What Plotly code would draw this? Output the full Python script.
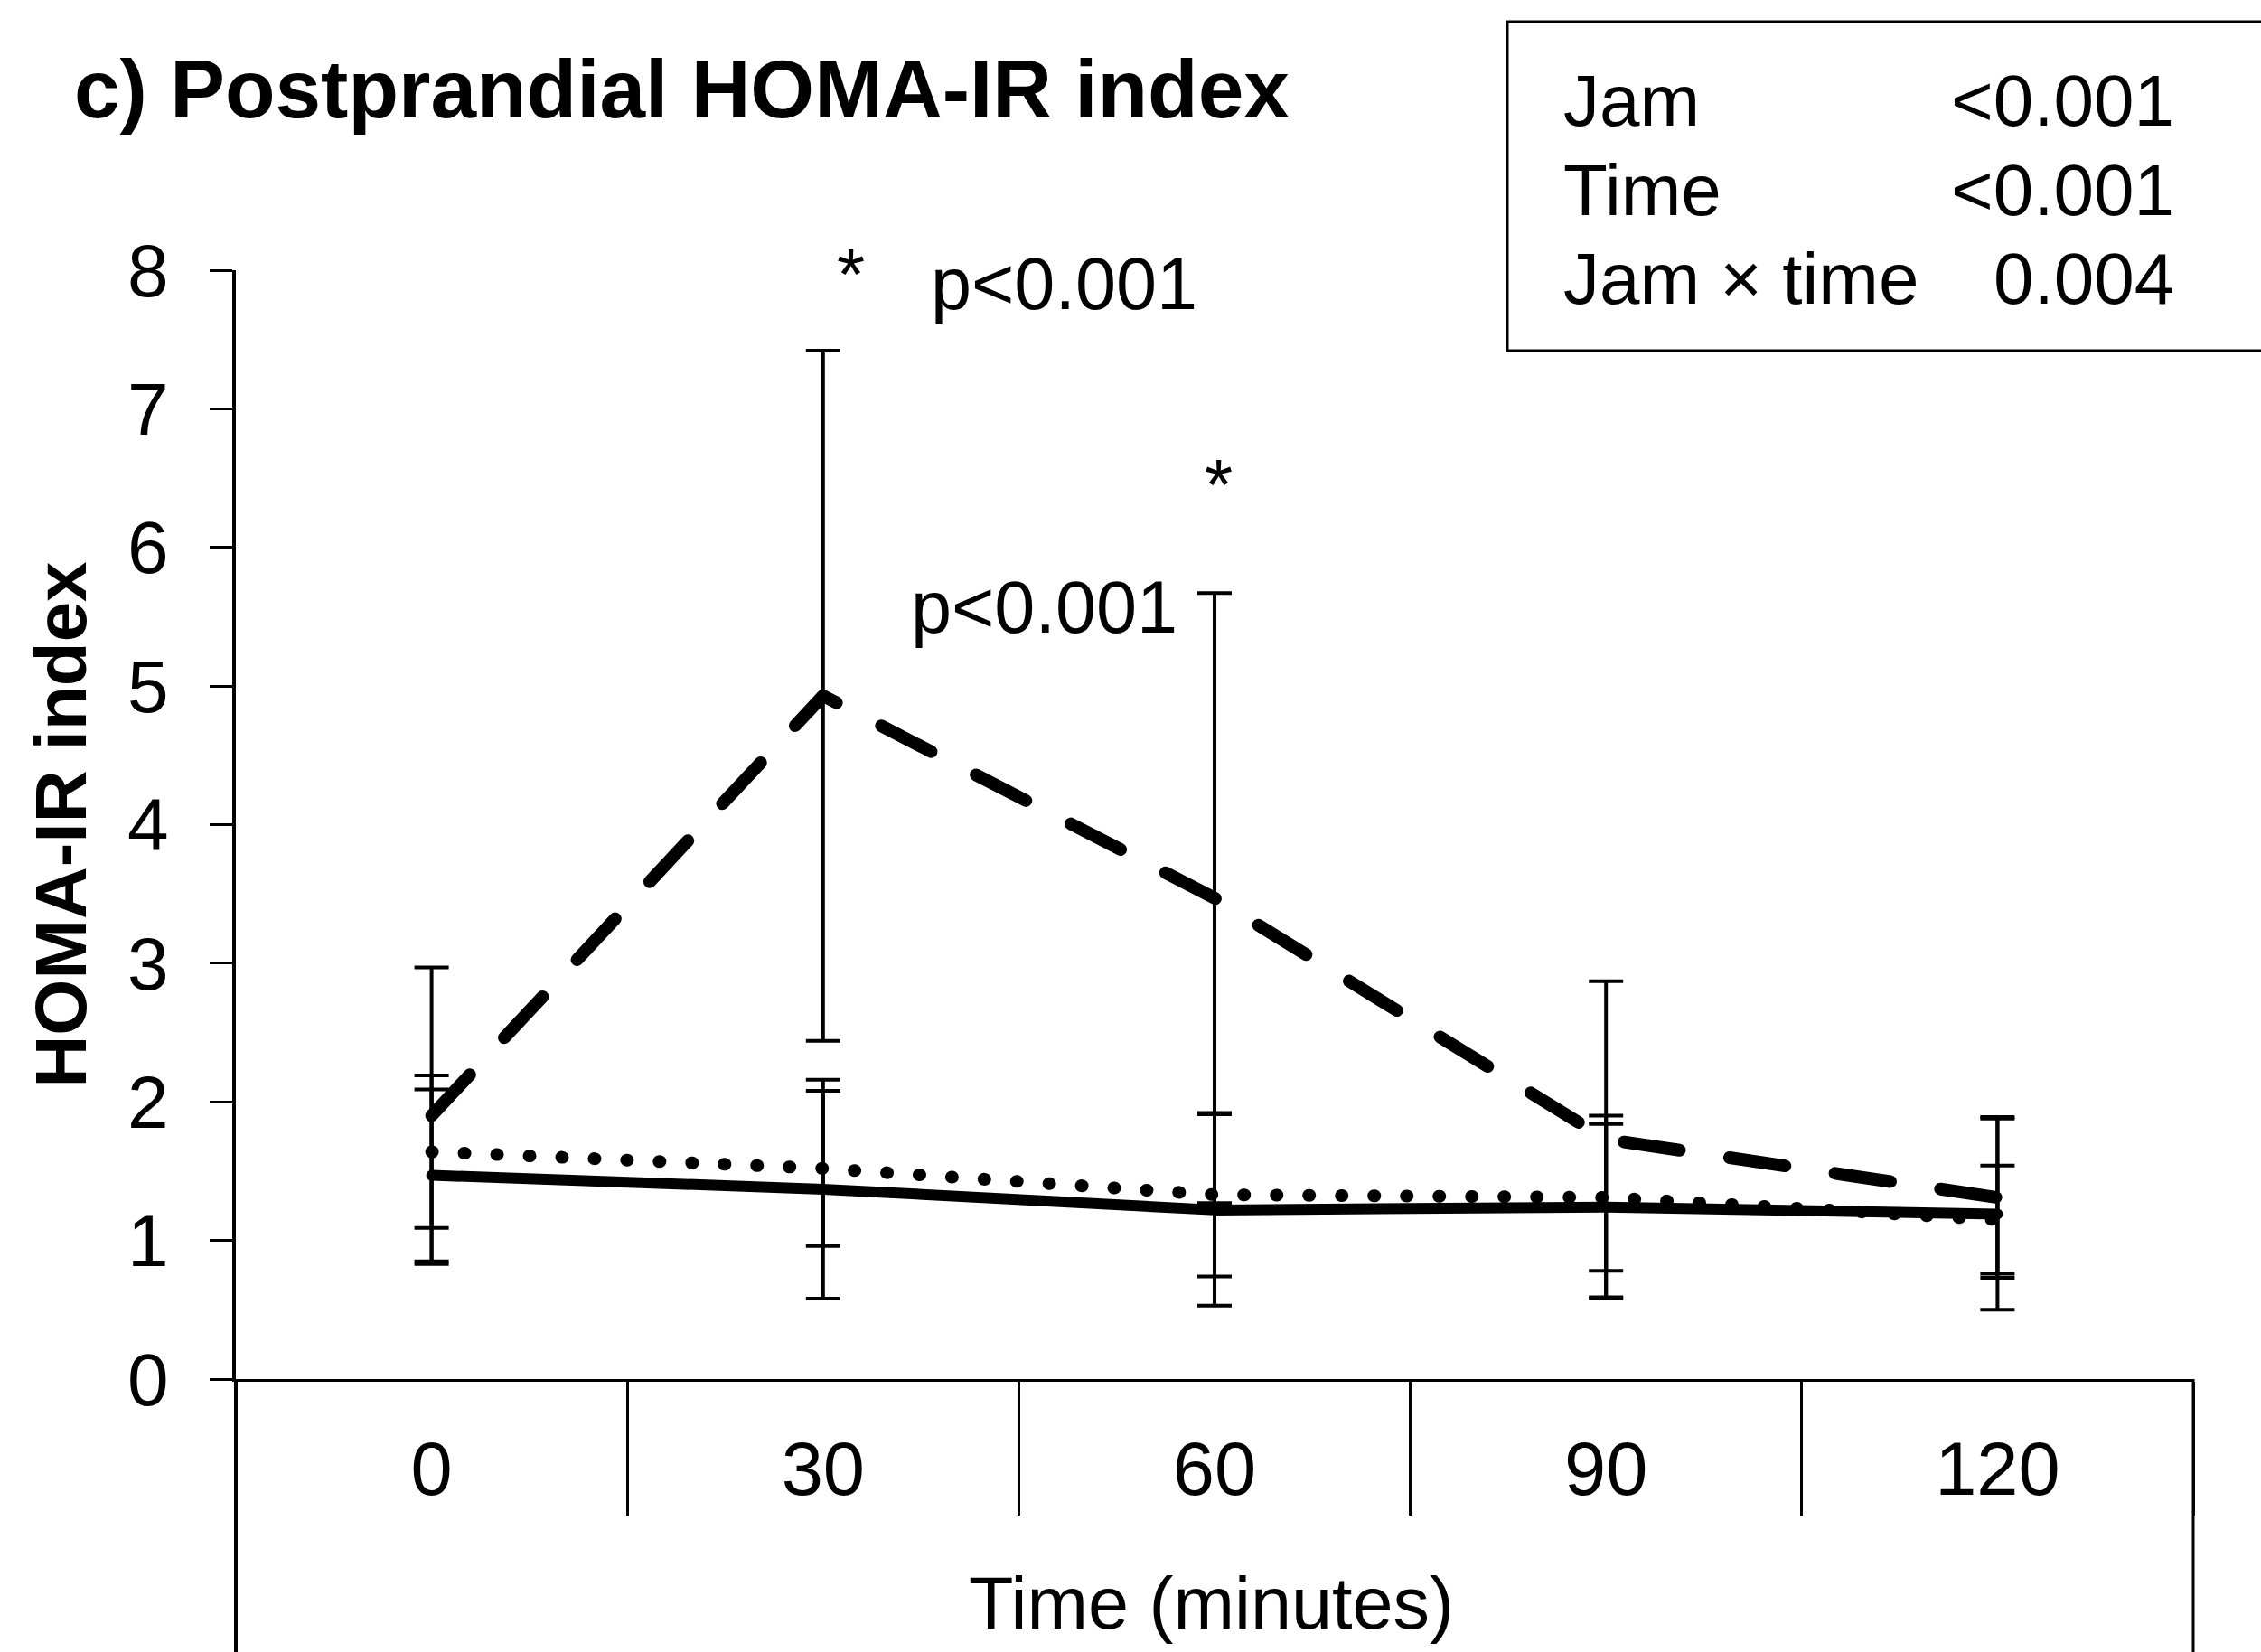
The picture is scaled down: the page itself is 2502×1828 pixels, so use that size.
import plotly.graph_objects as go

# ---------------- data ----------------
time_labels = ["0", "30", "60", "90", "120"]

dashed_mean = [1.90, 4.93, 3.47, 1.73, 1.31]
dashed_sd = [1.07, 2.49, 2.20, 1.14, 0.58]

dotted_mean = [1.64, 1.52, 1.33, 1.31, 1.15]
dotted_sd = [0.55, 0.56, 0.59, 0.53, 0.39]

solid_mean = [1.47, 1.37, 1.22, 1.24, 1.19]
solid_sd = [0.62, 0.79, 0.69, 0.66, 0.69]

stat_terms = ["Jam", "Time", "Jam \u00d7 time"]
stat_pvalues = ["<0.001", "<0.001", "0.004"]

y_ticks = [0, 1, 2, 3, 4, 5, 6, 7, 8]

# ---------------- layout geometry (px) ----------------
W, H = 2502, 1828
PL, PR, PT, PB = 261, 2427, 299, 1526   # plot area edges


def px(xp):
    return (xp - PL) / (PR - PL)


def py(yp):
    return (PB - yp) / (PB - PT)


FONT = "Liberation Sans, Arial, sans-serif"

fig = go.Figure()


def add_series(mean, sd, dash, width, name):
    fig.add_trace(go.Scatter(
        x=time_labels, y=mean, mode="lines", name=name,
        line=dict(color="black", width=width, dash=dash),
        error_y=dict(type="data", array=sd, visible=True,
                     color="black", thickness=4, width=19),
        showlegend=False, hoverinfo="skip",
    ))


add_series(dotted_mean, dotted_sd, "1px,35px", 14, "Dotted group")
add_series(solid_mean, solid_sd, "solid", 12, "Solid group")
add_series(dashed_mean, dashed_sd, "62px,56px", 14, "Dashed group")

shapes = [
    # extension of the y axis line below zero
    dict(type="line", xref="paper", yref="paper", x0=0, x1=0, y0=0, y1=py(H),
         line=dict(color="black", width=4)),
    # right border below the axis
    dict(type="line", xref="paper", yref="paper", x0=1, x1=1, y0=0, y1=py(H),
         line=dict(color="black", width=3)),
    # statistics box
    dict(type="rect", xref="paper", yref="paper",
         x0=px(1668), x1=px(2520), y0=py(388), y1=py(24),
         line=dict(color="black", width=3), fillcolor="rgba(0,0,0,0)"),
]

TXT = dict(family=FONT, color="black")

annotations = [
    dict(text="<b>c) Postprandial HOMA-IR index</b>", xref="paper", yref="paper",
         x=px(80), y=py(99), xanchor="left", yanchor="middle", showarrow=False,
         font=dict(size=91, **TXT)),
    dict(text="Time (minutes)", xref="paper", yref="paper",
         x=px(1340), y=py(1774), xanchor="center", yanchor="middle", showarrow=False,
         font=dict(size=81, **TXT)),
    dict(text="*", xref="x", yref="y", x=1.07, y=7.97, xanchor="center", yanchor="middle",
         showarrow=False, font=dict(size=80, **TXT)),
    dict(text="p<0.001", xref="x", yref="y", x=1.615, y=7.9, xanchor="center", yanchor="middle",
         showarrow=False, font=dict(size=81, **TXT)),
    dict(text="*", xref="x", yref="y", x=2.01, y=6.45, xanchor="center", yanchor="middle",
         showarrow=False, font=dict(size=80, **TXT)),
    dict(text="p<0.001", xref="x", yref="y", x=1.91, y=5.57, xanchor="right", yanchor="middle",
         showarrow=False, font=dict(size=81, **TXT)),
]

row_y = [112, 211, 308]
for term, pv, ry in zip(stat_terms, stat_pvalues, row_y):
    annotations.append(dict(text=term, xref="paper", yref="paper", x=px(1728), y=py(ry),
                            xanchor="left", yanchor="middle", showarrow=False,
                            font=dict(size=80, **TXT)))
    annotations.append(dict(text=pv, xref="paper", yref="paper", x=px(2408), y=py(ry),
                            xanchor="right", yanchor="middle", showarrow=False,
                            font=dict(size=80, **TXT)))

fig.update_layout(
    width=W, height=H,
    margin=dict(l=PL, r=W - PR, t=PT, b=H - PB, pad=0),
    paper_bgcolor="white", plot_bgcolor="white",
    font=TXT,
    shapes=shapes, annotations=annotations,
    xaxis=dict(
        type="category", range=[-0.5, 4.5], tickson="boundaries",
        ticks="outside", ticklen=148, tickwidth=3, tickcolor="black",
        showline=True, linecolor="black", linewidth=3,
        showgrid=False, zeroline=False,
        tickfont=dict(size=83, **TXT),
        ticklabelstandoff=25,
    ),
    yaxis=dict(
        range=[0, 8], tickvals=y_ticks, ticks="outside", ticklen=25, tickwidth=3,
        tickcolor="black", showline=True, linecolor="black", linewidth=4,
        showgrid=False, zeroline=False,
        tickfont=dict(size=82, **TXT),
        ticklabelstandoff=29,
        title=dict(text="<b>HOMA-IR index</b>", standoff=20,
                   font=dict(size=80, **TXT)),
    ),
)

post = ("document.querySelectorAll('.scatterlayer .js-line').forEach(function(p){"
        "p.style.strokeLinecap='round';p.style.strokeLinejoin='round';});")

fig.write_html("out.html", post_script=post)
